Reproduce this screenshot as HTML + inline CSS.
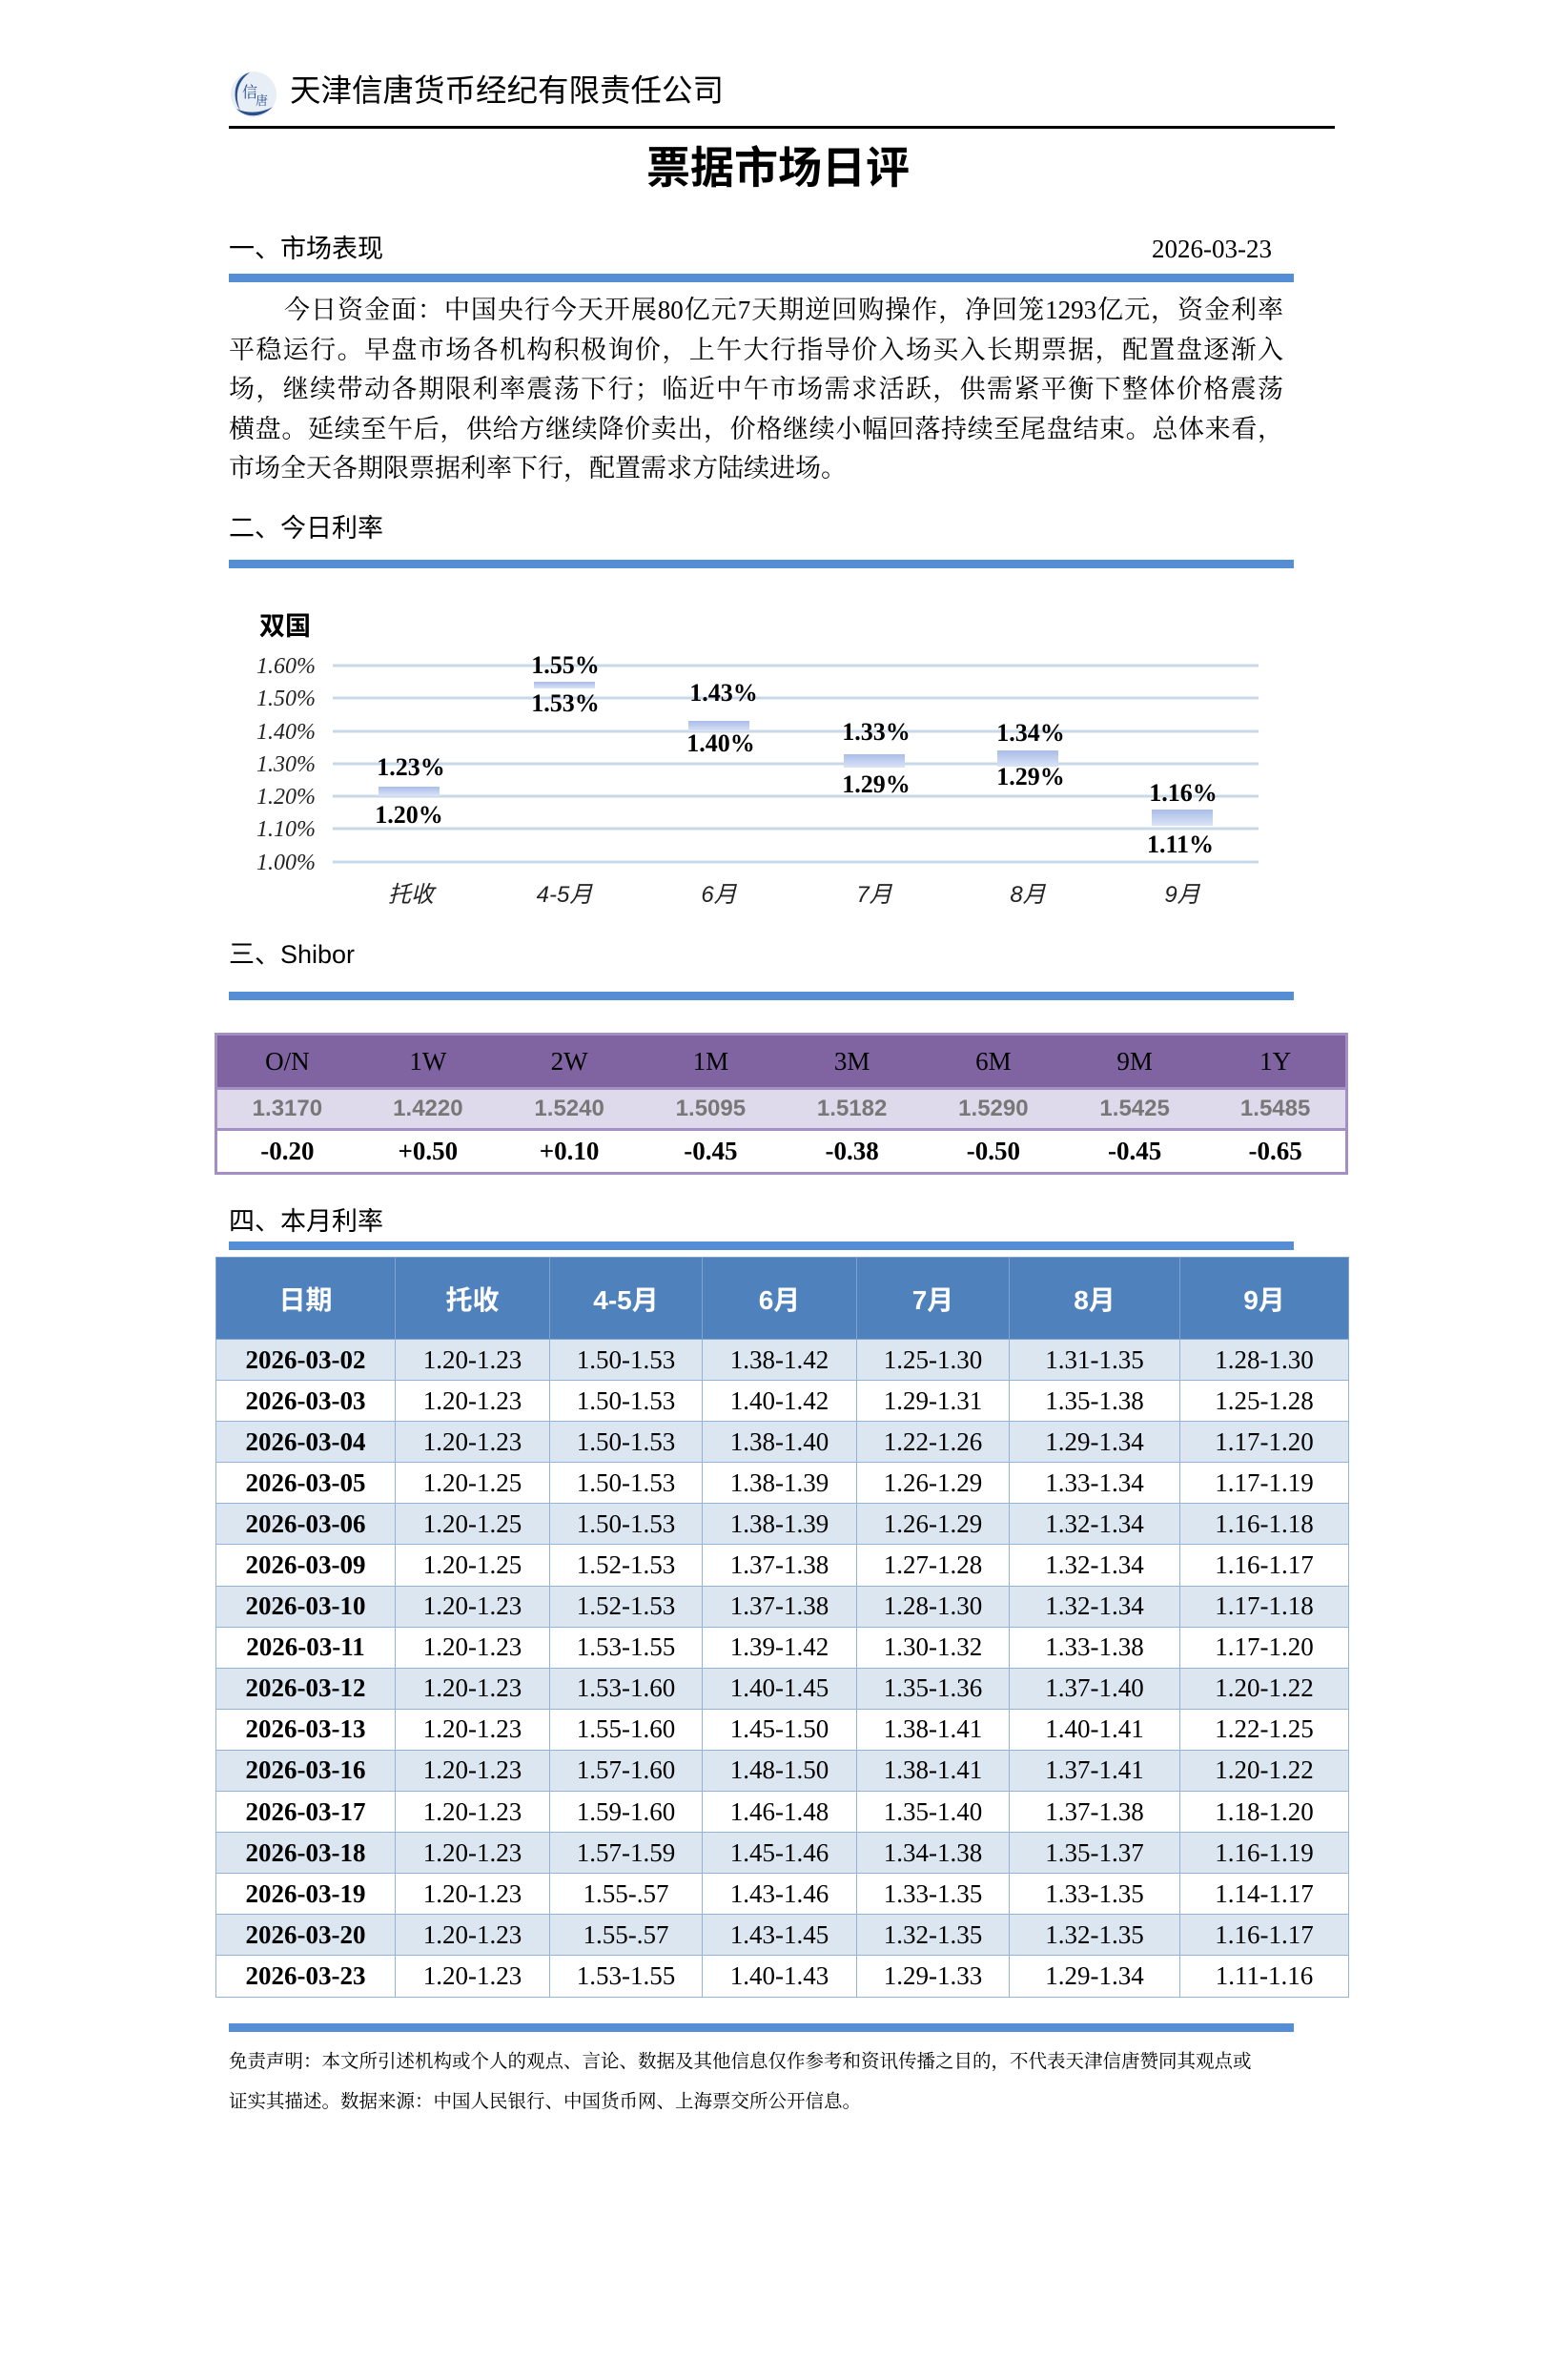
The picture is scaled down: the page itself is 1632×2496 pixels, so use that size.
<!DOCTYPE html>
<html><head><meta charset="utf-8">
<style>
*{margin:0;padding:0;box-sizing:border-box}
body{width:1632px;height:2496px;background:#fff;position:relative;overflow:hidden;font-family:"Liberation Serif","Noto Serif CJK SC",serif;color:#000}
.a{position:absolute;white-space:nowrap}
.bar{position:absolute;left:240px;width:1117px;height:9px;background:#558ed5}
.h{font-family:"Liberation Sans","Noto Sans CJK SC",sans-serif;font-size:27px;line-height:1}
.ln{position:absolute;left:240px;width:1110px;font-size:27px;line-height:30px;text-align:justify;text-align-last:justify;white-space:nowrap}
table{border-collapse:collapse;position:absolute;table-layout:fixed}
#sh{left:225px;top:1083px;width:1189px;border:3px solid #a48fc4}
#sh td{text-align:center;padding:0}
#mt{left:226px;top:1318px;width:1188px}
#mt td{border:1.5px solid #95b3d7;text-align:center;font-size:27px;height:43.1px;padding:0}
#mt th{background:#4f81bd;color:#fff;font-family:"Liberation Sans","Noto Sans CJK SC",sans-serif;font-size:28px;font-weight:bold;height:86px;border:1.5px solid #7fa2cf}
#mt tr:nth-child(even) td{background:#dce6f1}
#mt td:first-child{font-weight:bold}
</style></head><body>
<svg class="a" style="left:240px;top:72px" width="52" height="54" viewBox="0 0 52 54">
<circle cx="26" cy="27" r="24" fill="#e8eef6"/>
<path d="M22 4 C6 8 2 30 12 44 C6 30 8 14 22 4Z" fill="#2a4f8f"/>
<path d="M8 42 C18 52 34 52 46 40 C36 46 20 48 8 42Z" fill="#2a4f8f"/>
<text x="14" y="30" font-size="16" fill="#2a4f8f" font-family="Noto Serif CJK SC">信</text>
<text x="28" y="38" font-size="13" fill="#2a4f8f" font-family="Noto Serif CJK SC">唐</text>
</svg>
<div class="a" style="left:304px;top:77px;font-family:'Noto Sans CJK SC',sans-serif;font-size:32.5px;line-height:1">天津信唐货币经纪有限责任公司</div>
<div class="a" style="left:240px;top:132px;width:1160px;height:3px;background:#000"></div>
<div class="a" style="left:0;width:1632px;text-align:center;top:150px;font-family:'Noto Sans CJK SC',sans-serif;font-weight:bold;font-size:46px;line-height:1">票据市场日评</div>

<div class="a h" style="left:240px;top:248px">一、市场表现</div>
<div class="a" style="left:1208px;top:248px;font-size:27px;line-height:1">2026-03-23</div>
<div class="bar" style="top:287px"></div>
<div class="ln" style="top:310px;left:298px;width:1048px">今日资金面：中国央行今天开展80亿元7天期逆回购操作，净回笼1293亿元，资金利率</div>
<div class="ln" style="top:352px;width:1106px">平稳运行。早盘市场各机构积极询价，上午大行指导价入场买入长期票据，配置盘逐渐入</div>
<div class="ln" style="top:393px;width:1106px">场，继续带动各期限利率震荡下行；临近中午市场需求活跃，供需紧平衡下整体价格震荡</div>
<div class="ln" style="top:435px;width:1106px">横盘。延续至午后，供给方继续降价卖出，价格继续小幅回落持续至尾盘结束。总体来看，</div>
<div class="ln" style="top:476px;text-align-last:left">市场全天各期限票据利率下行，配置需求方陆续进场。</div>

<div class="a h" style="left:240px;top:541px">二、今日利率</div>
<div class="bar" style="top:587px"></div>

<svg class="a" style="left:0;top:-3px" width="1632" height="980">
<defs><linearGradient id="g" x1="0" y1="0" x2="0" y2="1"><stop offset="0" stop-color="#a9bde9"/><stop offset="1" stop-color="#dbe4f6"/></linearGradient></defs>
<text x="272" y="669" font-family="Noto Sans CJK SC" font-weight="bold" font-size="27">双国</text>
<g stroke="#c8d8e8" stroke-width="3">
<line x1="349" x2="1320" y1="701" y2="701"/><line x1="349" x2="1320" y1="735" y2="735"/><line x1="349" x2="1320" y1="770" y2="770"/><line x1="349" x2="1320" y1="804" y2="804"/><line x1="349" x2="1320" y1="838" y2="838"/><line x1="349" x2="1320" y1="872" y2="872"/><line x1="349" x2="1320" y1="907" y2="907"/>
</g>
<g font-family="Liberation Serif" font-style="italic" font-size="24" text-anchor="end" fill="#222">
<text x="331" y="709">1.60%</text><text x="331" y="743">1.50%</text><text x="331" y="778">1.40%</text><text x="331" y="812">1.30%</text><text x="331" y="846">1.20%</text><text x="331" y="880">1.10%</text><text x="331" y="915">1.00%</text>
</g>
<g fill="url(#g)">
<rect x="397" y="828" width="64" height="10"/>
<rect x="560" y="718" width="64" height="7"/>
<rect x="722" y="759" width="64" height="11"/>
<rect x="885" y="794" width="64" height="14"/>
<rect x="1046" y="790" width="64" height="17"/>
<rect x="1208" y="852" width="64" height="17"/>
</g>
<g font-family="Liberation Serif" font-weight="bold" font-size="26" text-anchor="middle">
<text x="431" y="816">1.23%</text><text x="429" y="866">1.20%</text>
<text x="593" y="709">1.55%</text><text x="593" y="749">1.53%</text>
<text x="759" y="738">1.43%</text><text x="756" y="791">1.40%</text>
<text x="919" y="779">1.33%</text><text x="919" y="834">1.29%</text>
<text x="1081" y="780">1.34%</text><text x="1081" y="826">1.29%</text>
<text x="1241" y="843">1.16%</text><text x="1238" y="897">1.11%</text>
</g>
<g font-family="Liberation Sans,Noto Sans CJK SC" font-style="italic" font-size="24" text-anchor="middle" fill="#222">
<text x="431" y="949">托收</text><text x="592" y="949">4-5月</text><text x="754" y="949">6月</text><text x="917" y="949">7月</text><text x="1078" y="949">8月</text><text x="1240" y="949">9月</text>
</g>
</svg>

<div class="a h" style="left:240px;top:988px">三、Shibor</div>
<div class="bar" style="top:1040px"></div>

<table id="sh">
<tr style="background:#8064a2;height:57px;font-size:27px"><td>O/N</td><td>1W</td><td>2W</td><td>1M</td><td>3M</td><td>6M</td><td>9M</td><td>1Y</td></tr>
<tr style="background:#dfdaeb;height:43px;font-family:'Liberation Sans',sans-serif;font-weight:bold;color:#777;font-size:24px;border-top:3px solid #a48fc4"><td>1.3170</td><td>1.4220</td><td>1.5240</td><td>1.5095</td><td>1.5182</td><td>1.5290</td><td>1.5425</td><td>1.5485</td></tr>
<tr style="background:#fff;height:46px;font-weight:bold;font-size:27px;border-top:3px solid #a48fc4"><td>-0.20</td><td>+0.50</td><td>+0.10</td><td>-0.45</td><td>-0.38</td><td>-0.50</td><td>-0.45</td><td>-0.65</td></tr>
</table>

<div class="a h" style="left:240px;top:1268px">四、本月利率</div>
<div class="bar" style="top:1302px"></div>

<table id="mt">
<colgroup><col style="width:188px"><col style="width:162px"><col style="width:160px"><col style="width:162px"><col style="width:160px"><col style="width:179px"><col style="width:177px"></colgroup>
<tr><th>日期</th><th>托收</th><th>4-5月</th><th>6月</th><th>7月</th><th>8月</th><th>9月</th></tr>
<tr><td>2026-03-02</td><td>1.20-1.23</td><td>1.50-1.53</td><td>1.38-1.42</td><td>1.25-1.30</td><td>1.31-1.35</td><td>1.28-1.30</td></tr>
<tr><td>2026-03-03</td><td>1.20-1.23</td><td>1.50-1.53</td><td>1.40-1.42</td><td>1.29-1.31</td><td>1.35-1.38</td><td>1.25-1.28</td></tr>
<tr><td>2026-03-04</td><td>1.20-1.23</td><td>1.50-1.53</td><td>1.38-1.40</td><td>1.22-1.26</td><td>1.29-1.34</td><td>1.17-1.20</td></tr>
<tr><td>2026-03-05</td><td>1.20-1.25</td><td>1.50-1.53</td><td>1.38-1.39</td><td>1.26-1.29</td><td>1.33-1.34</td><td>1.17-1.19</td></tr>
<tr><td>2026-03-06</td><td>1.20-1.25</td><td>1.50-1.53</td><td>1.38-1.39</td><td>1.26-1.29</td><td>1.32-1.34</td><td>1.16-1.18</td></tr>
<tr><td>2026-03-09</td><td>1.20-1.25</td><td>1.52-1.53</td><td>1.37-1.38</td><td>1.27-1.28</td><td>1.32-1.34</td><td>1.16-1.17</td></tr>
<tr><td>2026-03-10</td><td>1.20-1.23</td><td>1.52-1.53</td><td>1.37-1.38</td><td>1.28-1.30</td><td>1.32-1.34</td><td>1.17-1.18</td></tr>
<tr><td>2026-03-11</td><td>1.20-1.23</td><td>1.53-1.55</td><td>1.39-1.42</td><td>1.30-1.32</td><td>1.33-1.38</td><td>1.17-1.20</td></tr>
<tr><td>2026-03-12</td><td>1.20-1.23</td><td>1.53-1.60</td><td>1.40-1.45</td><td>1.35-1.36</td><td>1.37-1.40</td><td>1.20-1.22</td></tr>
<tr><td>2026-03-13</td><td>1.20-1.23</td><td>1.55-1.60</td><td>1.45-1.50</td><td>1.38-1.41</td><td>1.40-1.41</td><td>1.22-1.25</td></tr>
<tr><td>2026-03-16</td><td>1.20-1.23</td><td>1.57-1.60</td><td>1.48-1.50</td><td>1.38-1.41</td><td>1.37-1.41</td><td>1.20-1.22</td></tr>
<tr><td>2026-03-17</td><td>1.20-1.23</td><td>1.59-1.60</td><td>1.46-1.48</td><td>1.35-1.40</td><td>1.37-1.38</td><td>1.18-1.20</td></tr>
<tr><td>2026-03-18</td><td>1.20-1.23</td><td>1.57-1.59</td><td>1.45-1.46</td><td>1.34-1.38</td><td>1.35-1.37</td><td>1.16-1.19</td></tr>
<tr><td>2026-03-19</td><td>1.20-1.23</td><td>1.55-.57</td><td>1.43-1.46</td><td>1.33-1.35</td><td>1.33-1.35</td><td>1.14-1.17</td></tr>
<tr><td>2026-03-20</td><td>1.20-1.23</td><td>1.55-.57</td><td>1.43-1.45</td><td>1.32-1.35</td><td>1.32-1.35</td><td>1.16-1.17</td></tr>
<tr><td>2026-03-23</td><td>1.20-1.23</td><td>1.53-1.55</td><td>1.40-1.43</td><td>1.29-1.33</td><td>1.29-1.34</td><td>1.11-1.16</td></tr>
</table>

<div class="bar" style="top:2122px"></div>
<div class="a" style="left:240px;top:2142px;font-size:19.5px;line-height:42px;font-family:'Liberation Serif','Noto Serif CJK SC',serif">免责声明：本文所引述机构或个人的观点、言论、数据及其他信息仅作参考和资讯传播之目的，不代表天津信唐赞同其观点或<br>证实其描述。数据来源：中国人民银行、中国货币网、上海票交所公开信息。</div>
</body></html>
